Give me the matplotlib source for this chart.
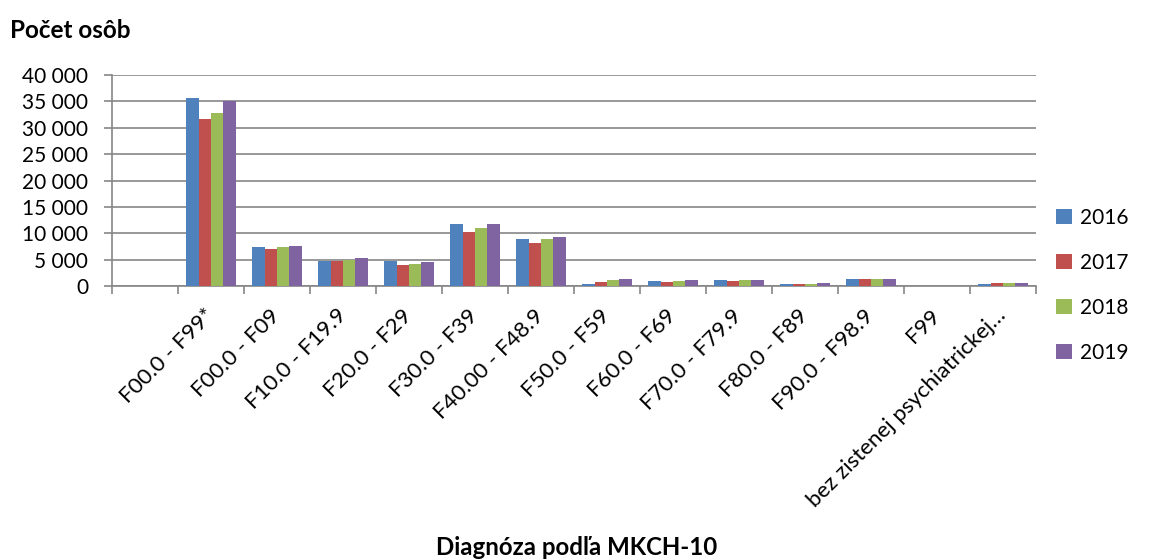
import numpy as np
import matplotlib
matplotlib.use("Agg")
import matplotlib.pyplot as plt
from matplotlib.ticker import FuncFormatter, MultipleLocator

plt.rcParams['font.family'] = ['Lato', 'DejaVu Sans']

categories = ["", "F00.0 - F99*", "F00.0 - F09", "F10.0 - F19.9", "F20.0 - F29",
              "F30.0 - F39", "F40.00 - F48.9", "F50.0 - F59", "F60.0 - F69",
              "F70.0 - F79.9", "F80.0 - F89", "F90.0 - F98.9", "F99",
              "bez zistenej psychiatrickej\u2026"]
years = ["2016", "2017", "2018", "2019"]
v2016 = [np.nan, 35600, 7500, 4850, 4750, 11700, 8850, 500, 900, 1080, 320, 1350, 0, 380]
v2017 = [np.nan, 31750, 7050, 4700, 4100, 10250, 8150, 820, 780, 950, 380, 1330, 0, 680]
v2018 = [np.nan, 32850, 7400, 5000, 4250, 10950, 8850, 1150, 950, 1080, 500, 1330, 0, 680]
v2019 = [np.nan, 35050, 7700, 5300, 4600, 11750, 9300, 1450, 1080, 1080, 630, 1350, 0, 600]
series = [v2016, v2017, v2018, v2019]
colors = ["#4F81BD", "#C0504D", "#9BBB59", "#8064A2"]

fig = plt.figure(figsize=(11.53, 5.60), dpi=100)
ax = fig.add_axes([0.0971, 0.489, 0.8014, 0.377])

x = np.arange(len(categories))
bw = 0.186
for i, (vals, col, yr) in enumerate(zip(series, colors, years)):
    ax.bar(x + (i - 1.5) * bw, vals, width=bw, color=col, label=yr, zorder=3,
           edgecolor='none')

ax.set_xlim(-0.5, len(categories) - 0.5)
ax.set_ylim(0, 40000)
ax.yaxis.set_major_locator(MultipleLocator(5000))
ax.yaxis.set_major_formatter(FuncFormatter(lambda v, p: f"{int(v):,}".replace(",", " ")))
ax.grid(axis='y', color='#868686', linewidth=1.2, zorder=0)

for s in ['top', 'right']:
    ax.spines[s].set_visible(False)
for s in ['left', 'bottom']:
    ax.spines[s].set_color('#868686')
    ax.spines[s].set_linewidth(1.2)

ax.set_xticks(x)
ax.set_xticklabels(categories, rotation=45, ha='right', va='center',
                   rotation_mode='anchor', fontsize=16)
ax.tick_params(axis='x', which='major', length=0, pad=19)
ax.set_xticks(np.arange(-0.5, len(categories)), minor=True)
ax.tick_params(axis='x', which='minor', length=6, width=1.2, color='#868686', direction='out')
ax.tick_params(axis='y', length=6, width=1.2, color='#868686', labelsize=15, pad=11)

fig.text(0.009, 0.945, "Počet osôb", fontsize=17.5, fontweight='bold', ha='left', va='center')
fig.text(0.5, 0.022, "Diagnóza podľa MKCH-10", fontsize=17.3, fontweight='bold',
         ha='center', va='center')

fig.legend(loc='center left', bbox_to_anchor=(0.9, 0.49), frameon=False,
           fontsize=15, handlelength=0.75, handleheight=0.75, handletextpad=0.4,
           labelspacing=1.2)

fig.savefig("out.png", dpi=100)
